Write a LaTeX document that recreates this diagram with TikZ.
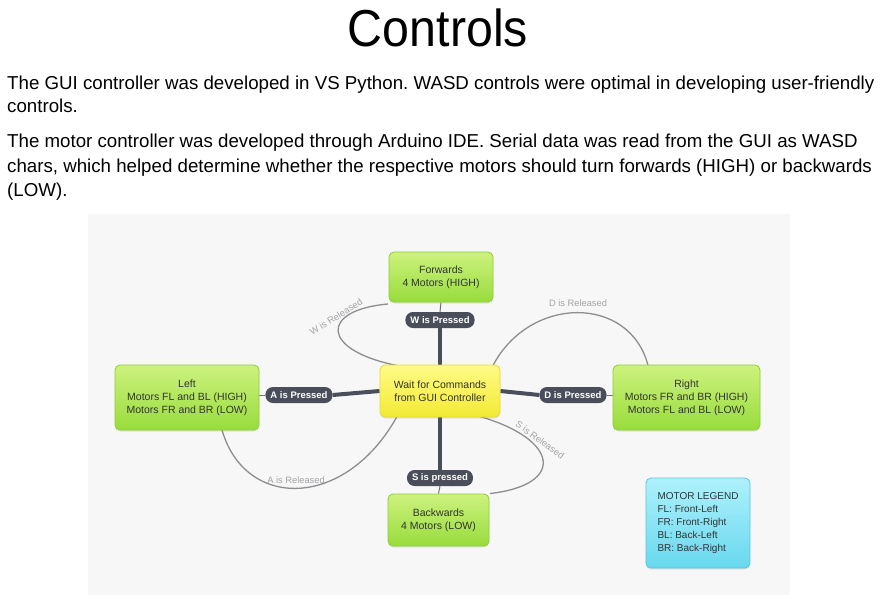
\documentclass[tikz,border=0pt]{standalone}
\usepackage{fontspec}
\setmainfont{Liberation Sans}
\newfontfamily\titlefont[FakeStretch=0.93]{Liberation Sans}
\usetikzlibrary{shadows}
\frenchspacing

\definecolor{panelbg}{HTML}{F7F7F7}
\definecolor{greentop}{HTML}{CDF27E}
\definecolor{greenbot}{HTML}{98DC3C}
\definecolor{greenline}{HTML}{8CCF36}
\definecolor{yellowtop}{HTML}{FFFB86}
\definecolor{yellowbot}{HTML}{F3EA34}
\definecolor{yellowline}{HTML}{E6DC2E}
\definecolor{cyantop}{HTML}{AEF1FC}
\definecolor{cyanbot}{HTML}{68D8EE}
\definecolor{cyanline}{HTML}{58C6DE}
\definecolor{pill}{HTML}{4A4E5A}
\definecolor{relline}{HTML}{8E8E92}
\definecolor{reltext}{HTML}{A3A3A6}
\definecolor{boxtext}{HTML}{333333}

\pgfdeclarelayer{bg}
\pgfdeclarelayer{edges}
\pgfsetlayers{bg,edges,main}

\newcommand\boxfont{\fontsize{10.5}{13}\selectfont}
\newcommand\legendfont{\fontsize{10}{13}\selectfont}
\newcommand\pillfont{\fontsize{9.5}{12}\selectfont\bfseries}
\newcommand\relfont{\fontsize{9.3}{11}\selectfont}
\newcommand\bodyfont{\fontsize{18.7}{22}\selectfont}

\tikzset{
  basebox/.style={rounded corners=5pt, draw, line width=0.8pt, align=center,
    text=boxtext, font=\boxfont, inner sep=2pt,
    drop shadow={opacity=0.18, shadow xshift=0pt, shadow yshift=-1.5pt}},
  statebox/.style={basebox, top color=greentop, bottom color=greenbot, draw=greenline},
  waitbox/.style={basebox, top color=yellowtop, bottom color=yellowbot, draw=yellowline},
  legendbox/.style={basebox, top color=cyantop, bottom color=cyanbot, draw=cyanline,
    align=left, font=\legendfont},
  pilltag/.style={fill=pill, text=white, rounded corners=7.5pt, font=\pillfont,
    minimum height=16pt, inner sep=0pt, inner xsep=5pt},
  pressline/.style={draw=pill, line width=4pt},
  linkline/.style={draw=pill!80, line width=1pt},
  relline/.style={draw=relline, line width=1.3pt},
  reltag/.style={text=reltext, font=\relfont, inner sep=1pt},
  bodyline/.style={anchor=base west, font=\bodyfont, inner sep=0pt},
}

\begin{document}
\begin{tikzpicture}[x=1pt,y=-1pt]
\useasboundingbox (0,0) rectangle (891,607);

% page and diagram panel
\begin{pgfonlayer}{bg}
  \fill[white] (0,0) rectangle (891,607);
  \fill[panelbg] (88,214) rectangle (790,595);
\end{pgfonlayer}

% heading and description
\node[anchor=base, font=\titlefont\fontsize{52}{60}\selectfont, inner sep=0pt] (title) at (438,47) {Controls};
\node[bodyline] (p1a) at (7,90) {The GUI controller was developed in VS Python. WASD controls were optimal in developing user-friendly};
\node[bodyline] (p1b) at (7,113) {controls.};
\node[bodyline] (p2a) at (7,147) {The motor controller was developed through Arduino IDE. Serial data was read from the GUI as WASD};
\node[bodyline] (p2b) at (7,172) {chars, which helped determine whether the respective motors should turn forwards (HIGH) or backwards};
\node[bodyline] (p2c) at (7,196) {(LOW).};

% states
\node[statebox, minimum width=104pt, minimum height=50pt] (fw) at (441,277) {Forwards\\4 Motors (HIGH)};
\node[waitbox, minimum width=120pt, minimum height=52pt] (wait) at (440,391) {Wait for Commands\\from GUI Controller};
\node[statebox, minimum width=144pt, minimum height=65pt] (left) at (187,397.5) {Left\\Motors FL and BL (HIGH)\\Motors FR and BR (LOW)};
\node[statebox, minimum width=147pt, minimum height=65pt] (right) at (686.5,397.5) {Right\\Motors FR and BR (HIGH)\\Motors FL and BL (LOW)};
\node[statebox, minimum width=101pt, minimum height=52pt] (bw) at (438.5,520) {Backwards\\4 Motors (LOW)};
\node[legendbox, minimum width=104pt, minimum height=90pt] (legend) at (698,523) {MOTOR LEGEND\\FL: Front-Left\\FR: Front-Right\\BL: Back-Left\\BR: Back-Right};

% key-press tags
\node[pilltag] (wp) at (440,320) {W is Pressed};
\node[pilltag] (ap) at (299,395) {A is Pressed};
\node[pilltag] (dp) at (573,395) {D is Pressed};
\node[pilltag] (sp) at (440,478) {S is pressed};

\begin{pgfonlayer}{edges}
  % pressed transitions
  \draw[pressline] (wait.north) -- (wp.south);
  \draw[linkline] (wp.north) -- (fw.south);
  \draw[pressline] (wait.west) -- (ap.east);
  \draw[linkline] (ap.west) -- (left.east |- ap.west);
  \draw[pressline] (wait.east) -- (dp.west);
  \draw[linkline] (dp.east) -- (right.west |- dp.east);
  \draw[pressline] (wait.south) -- (sp.north);
  \draw[linkline] (sp.south) -- (bw.north);

  % released transitions back to waiting
  \coordinate (wr0) at (388,304);
  \coordinate (wr1) at (397,365.5);
  \draw[relline] (wr0) .. controls (320,310) and (320,350) .. (wr1);
  \coordinate (dr0) at (493,365.5);
  \coordinate (dr1) at (648,365.5);
  \draw[relline] (dr0) .. controls (530,295) and (630,295) .. (dr1);
  \coordinate (ar0) at (222,430);
  \coordinate (ar1) at (397,416.5);
  \draw[relline] (ar0) .. controls (245,510) and (345,510) .. (ar1);
  \coordinate (sr0) at (480,416.5);
  \coordinate (sr1) at (490,493.5);
  \draw[relline] (sr0) .. controls (560,440) and (565,485) .. (sr1);
\end{pgfonlayer}

\node[reltag, rotate=32] (wrl) at (336,317) {W is Released};
\node[reltag] (drl) at (578,303) {D is Released};
\node[reltag] (arl) at (296,480) {A is Released};
\node[reltag, rotate=-36] (srl) at (540,440) {S is Released};
\end{tikzpicture}
\end{document}
